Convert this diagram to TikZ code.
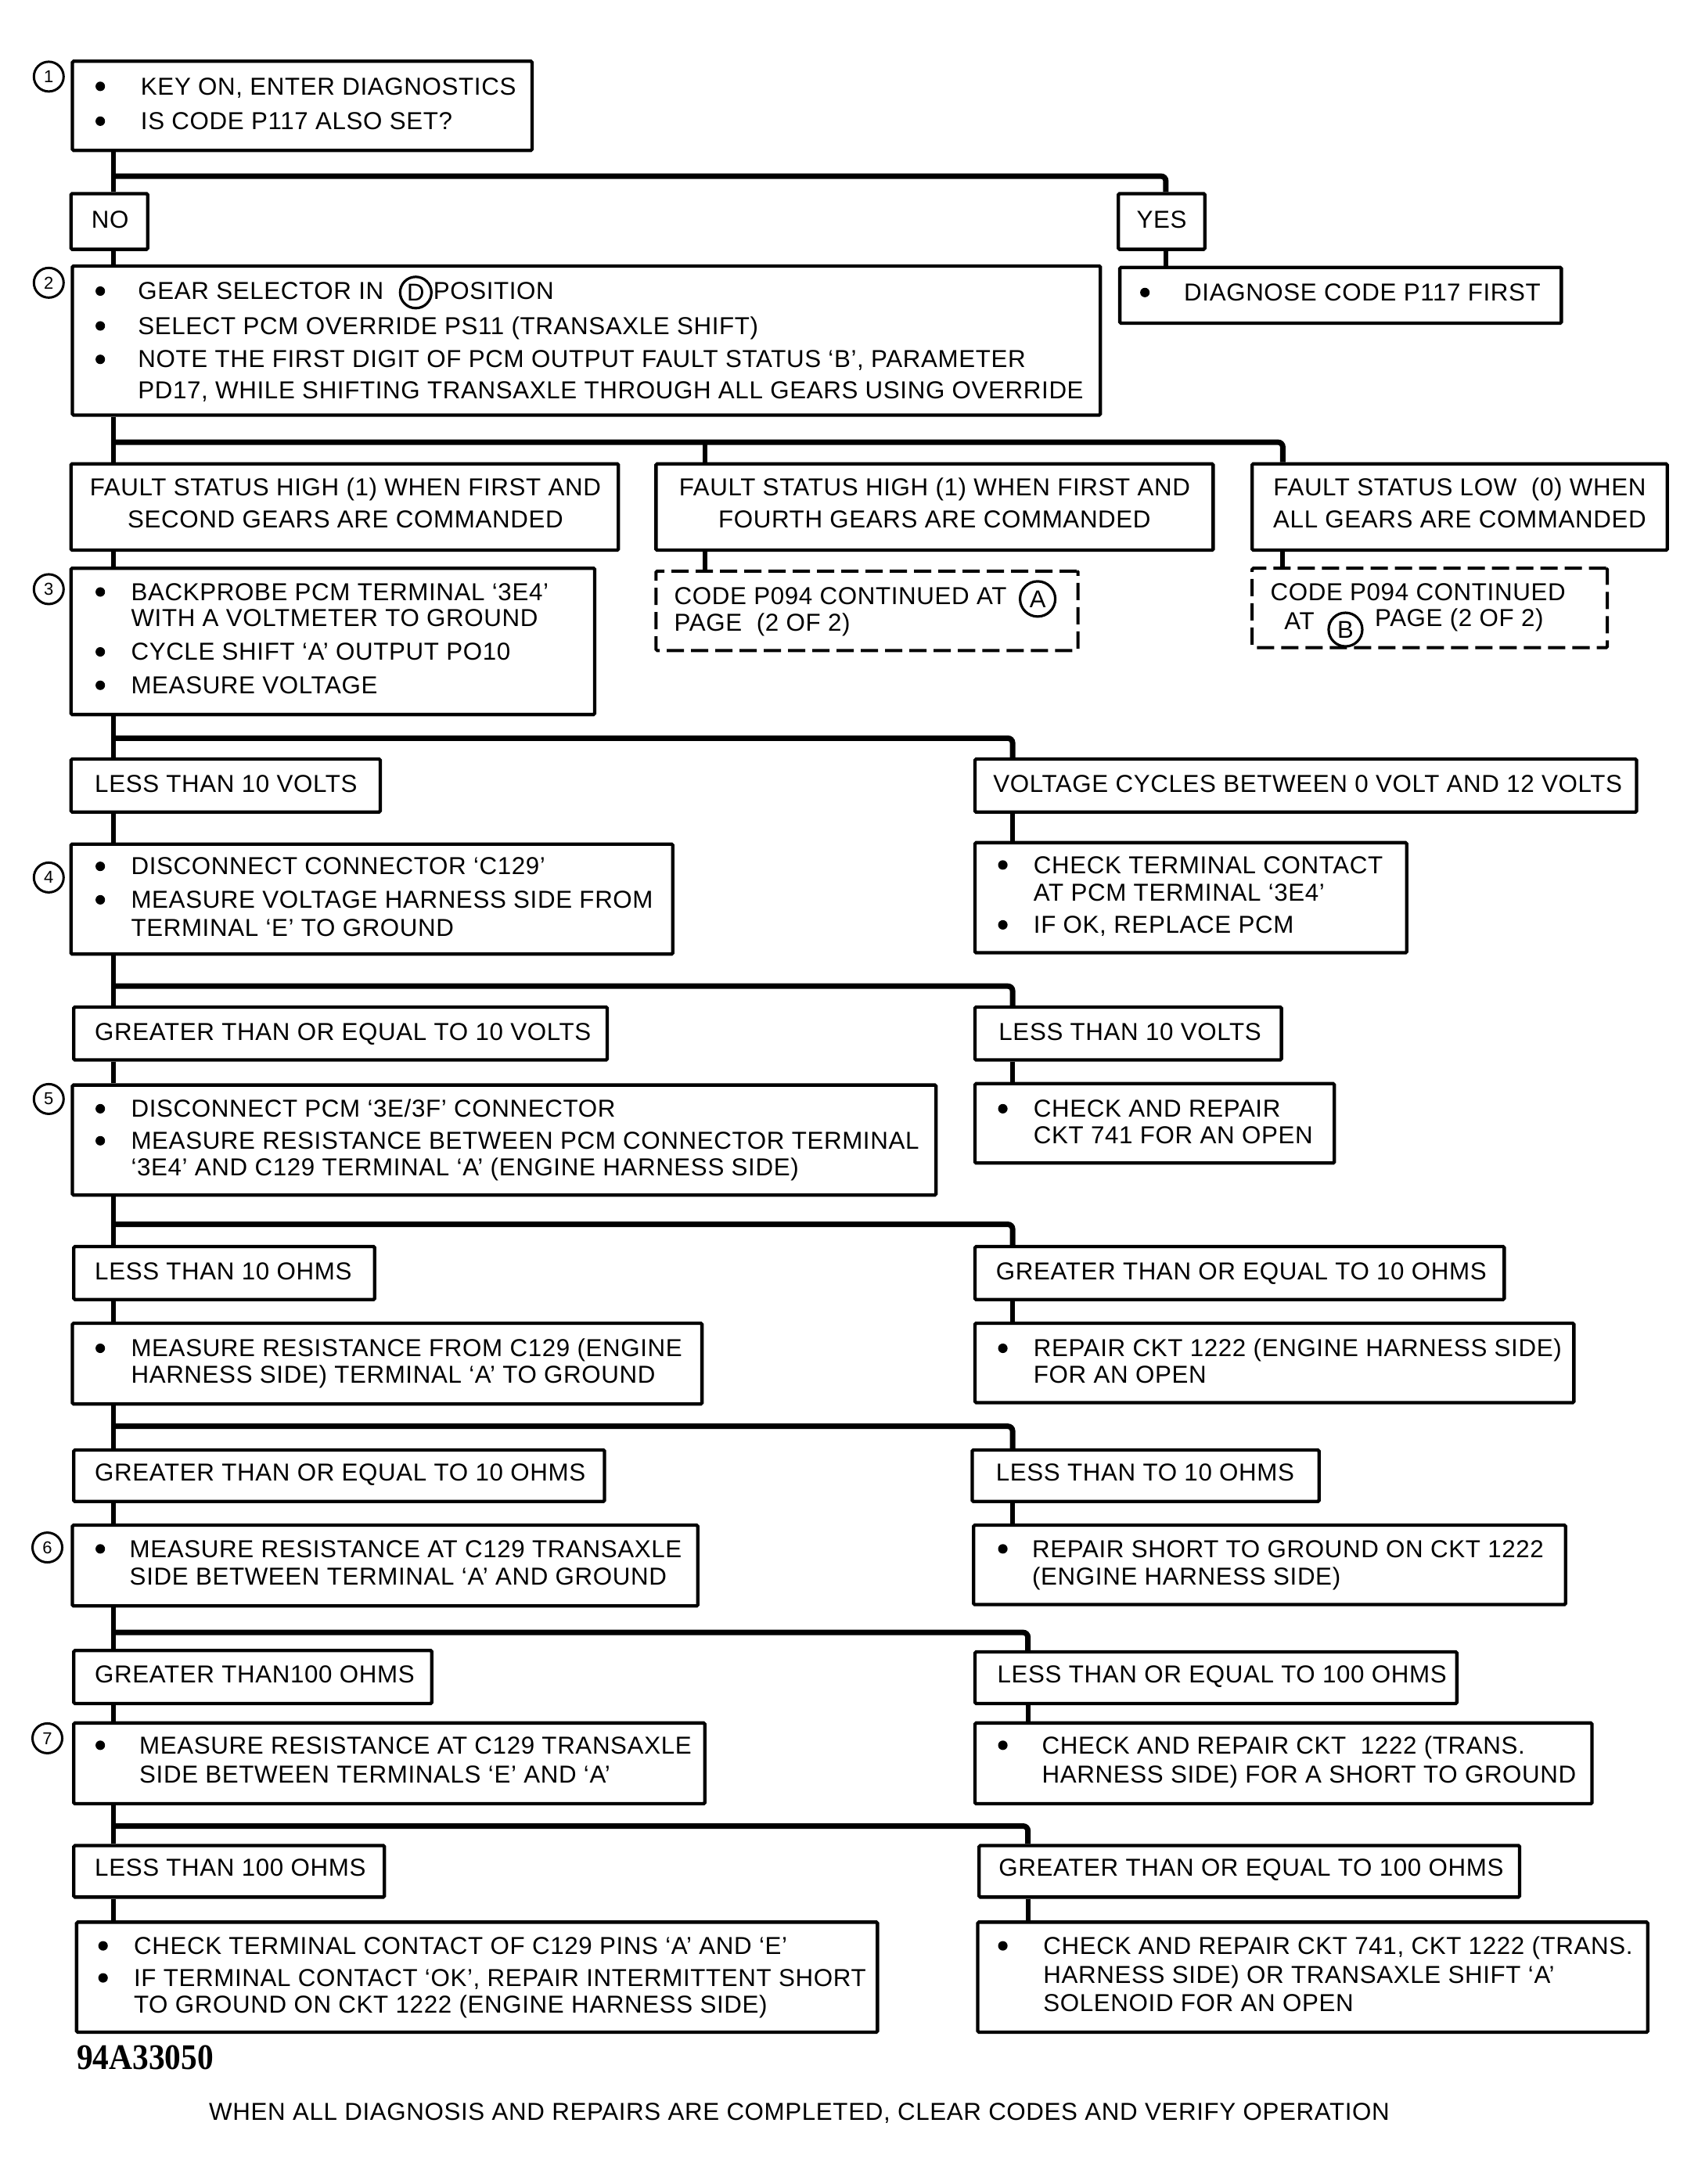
\documentclass[tikz,border=0pt]{standalone}
\usepackage{fontspec}
\setmainfont{Liberation Sans}[LetterSpace=2]
\newfontfamily\codefont{Liberation Serif}
\usetikzlibrary{fit}
\tikzset{
  box/.style={draw, line width=4.3pt, inner sep=0pt, rounded corners=1.5pt},
  dbox/.style={box, line width=4pt, dash pattern=on 22pt off 9pt},
  hl/.style={line width=7pt, rounded corners=6pt},
  vl/.style={line width=6pt},
  txt/.style={anchor=base west, inner sep=0pt, font=\fontsize{31.3}{36}\selectfont},
  ctxt/.style={anchor=base, inner sep=0pt, font=\fontsize{31.3}{36}\selectfont},
  numc/.style={circle, draw, line width=3pt, minimum size=38pt, inner sep=0pt, font=\fontsize{22}{22}\selectfont},
  letc/.style={circle, draw, line width=3.2pt, minimum size=45pt, inner sep=0pt, font=\fontsize{31}{31}\selectfont},
}
\newcommand\bx[6][box]{\node[#1, fit={(#3,#4)(#5,#6)}] (#2) {};}
\newcommand\tl[4]{\node[txt] (#1) at (#2,#3+6) {#4};}
\newcommand\tc[4]{\node[ctxt] (#1) at (#2,#3+6) {#4};}
\newcommand\bul[2]{\fill (#1,#2) circle (3.4);}
\begin{document}
\begin{tikzpicture}[x=1.7793pt, y=-1.7793pt]
\fill[white] (0,0) rectangle (1219,1568);
\useasboundingbox (0,0) rectangle (1219,1568);

% coordinates for connector columns / rows
\coordinate (tr) at (81.5,0);
\coordinate (yd) at (837,0);
\coordinate (md) at (506,0);
\coordinate (rf) at (921,0);
\coordinate (rd) at (727,0);
\coordinate (re) at (738,0);
\coordinate (h1) at (0,126.5);
\coordinate (h2) at (0,317.5);
\coordinate (h3) at (0,530);
\coordinate (h4) at (0,708);
\coordinate (h5) at (0,879);
\coordinate (h6) at (0,1024);
\coordinate (h7) at (0,1172);
\coordinate (h8) at (0,1311);

% ---------- step 1
\node[numc] (c1) at (35,55) {1};
\bx{b1}{52}{44}{382}{108}
\bul{72}{62}\tl{b1a}{101}{62}{KEY ON, ENTER DIAGNOSTICS}
\bul{72}{87}\tl{b1b}{101}{87}{IS CODE P117 ALSO SET?}

\bx{no}{51}{139}{106}{179}
\tc{not}{79}{158}{NO}
\bx{yes}{803}{139}{865}{179}
\tc{yest}{834}{158}{YES}

% ---------- step 2
\node[numc] (c2) at (35,203) {2};
\bx{b2}{52}{191}{790}{298}
\bul{72}{209}\tl{b2a}{99}{209}{GEAR SELECTOR IN}
\node[letc, minimum size=40pt] (cD) at (298.5,210) {D};
\tl{b2a2}{311}{209}{POSITION}
\bul{72}{234}\tl{b2b}{99}{234}{SELECT PCM OVERRIDE PS11 (TRANSAXLE SHIFT)}
\bul{72}{258}\tl{b2c}{99}{258}{NOTE THE FIRST DIGIT OF PCM OUTPUT FAULT STATUS ‘B’, PARAMETER}
\tl{b2d}{99}{280}{PD17, WHILE SHIFTING TRANSAXLE THROUGH ALL GEARS USING OVERRIDE}

\bx{diag}{804}{192}{1121}{232}
\bul{822}{210}\tl{diagt}{850}{210}{DIAGNOSE CODE P117 FIRST}

% ---------- fault status
\bx{f1}{51}{333}{444}{395}
\tc{f1a}{248}{350}{FAULT STATUS HIGH (1) WHEN FIRST AND}
\tc{f1b}{248}{373}{SECOND GEARS ARE COMMANDED}
\bx{f2}{471}{333}{871}{395}
\tc{f2a}{671}{350}{FAULT STATUS HIGH (1) WHEN FIRST AND}
\tc{f2b}{671}{373}{FOURTH GEARS ARE COMMANDED}
\bx{f3}{899}{333}{1197}{395}
\tc{f3a}{1048}{350}{FAULT STATUS LOW\ \ (0) WHEN}
\tc{f3b}{1048}{373}{ALL GEARS ARE COMMANDED}

% ---------- step 3
\node[numc] (c3) at (35,423) {3};
\bx{b3}{51}{408}{427}{513}
\bul{72}{425}\tl{b3a}{94}{425}{BACKPROBE PCM TERMINAL ‘3E4’}
\tl{b3b}{94}{444}{WITH A VOLTMETER TO GROUND}
\bul{72}{468}\tl{b3c}{94}{468}{CYCLE SHIFT ‘A’ OUTPUT PO10}
\bul{72}{492}\tl{b3d}{94}{492}{MEASURE VOLTAGE}

\bx[dbox]{dA}{471}{410}{774}{467}
\tl{dAa}{484}{428}{CODE P094 CONTINUED AT}
\node[letc] (cA) at (745,430) {A};
\tl{dAb}{484}{447}{PAGE\ \ (2 OF 2)}

\bx[dbox]{dB}{899}{408}{1154}{465}
\tl{dBa}{912}{425}{CODE P094 CONTINUED}
\tl{dBb}{922}{446}{AT}
\node[letc, minimum size=43pt] (cB) at (966,452) {B};
\tl{dBc}{987}{444}{PAGE (2 OF 2)}

% ---------- voltage results
\bx{lv1}{51}{545}{273}{583}
\tl{lv1t}{68}{563}{LESS THAN 10 VOLTS}
\bx{vc}{700}{545}{1175}{583}
\tl{vct}{713}{563}{VOLTAGE CYCLES BETWEEN 0 VOLT AND 12 VOLTS}

% ---------- step 4
\node[numc] (c4) at (35,630) {4};
\bx{b4}{51}{606}{483}{685}
\bul{72}{622}\tl{b4a}{94}{622}{DISCONNECT CONNECTOR ‘C129’}
\bul{72}{646}\tl{b4b}{94}{646}{MEASURE VOLTAGE HARNESS SIDE FROM}
\tl{b4c}{94}{666}{TERMINAL ‘E’ TO GROUND}
\bx{ctc}{700}{605}{1010}{684}
\bul{720}{621}\tl{ctca}{742}{621}{CHECK TERMINAL CONTACT}
\tl{ctcb}{742}{641}{AT PCM TERMINAL ‘3E4’}
\bul{720}{664}\tl{ctcc}{742}{664}{IF OK, REPLACE PCM}

\bx{gv}{53}{723}{436}{761}
\tl{gvt}{68}{741}{GREATER THAN OR EQUAL TO 10 VOLTS}
\bx{lv2}{700}{723}{920}{761}
\tl{lv2t}{717}{741}{LESS THAN 10 VOLTS}

% ---------- step 5
\node[numc] (c5) at (35,789) {5};
\bx{b5}{52}{779}{672}{858}
\bul{72}{796}\tl{b5a}{94}{796}{DISCONNECT PCM ‘3E/3F’ CONNECTOR}
\bul{72}{819}\tl{b5b}{94}{819}{MEASURE RESISTANCE BETWEEN PCM CONNECTOR TERMINAL}
\tl{b5c}{94}{838}{‘3E4’ AND C129 TERMINAL ‘A’ (ENGINE HARNESS SIDE)}
\bx{ck741}{700}{778}{958}{835}
\bul{720}{796}\tl{ck741a}{742}{796}{CHECK AND REPAIR}
\tl{ck741b}{742}{815}{CKT 741 FOR AN OPEN}

\bx{lo}{53}{895}{269}{933}
\tl{lot}{68}{913}{LESS THAN 10 OHMS}
\bx{go}{700}{895}{1080}{933}
\tl{got}{715}{913}{GREATER THAN OR EQUAL TO 10 OHMS}

\bx{mr}{52}{950}{504}{1008}
\bul{72}{968}\tl{mra}{94}{968}{MEASURE RESISTANCE FROM C129 (ENGINE}
\tl{mrb}{94}{987}{HARNESS SIDE) TERMINAL ‘A’ TO GROUND}
\bx{rep}{700}{950}{1130}{1007}
\bul{720}{968}\tl{repa}{742}{968}{REPAIR CKT 1222 (ENGINE HARNESS SIDE)}
\tl{repb}{742}{987}{FOR AN OPEN}

\bx{go2}{53}{1041}{434}{1078}
\tl{go2t}{68}{1057}{GREATER THAN OR EQUAL TO 10 OHMS}
\bx{lt10}{698}{1041}{947}{1078}
\tl{lt10t}{715}{1057}{LESS THAN TO 10 OHMS}

% ---------- step 6
\node[numc] (c6) at (34,1111) {6};
\bx{b6}{52}{1095}{501}{1153}
\bul{72}{1112}\tl{b6a}{93}{1112}{MEASURE RESISTANCE AT C129 TRANSAXLE}
\tl{b6b}{93}{1132}{SIDE BETWEEN TERMINAL ‘A’ AND GROUND}
\bx{rs}{699}{1095}{1124}{1152}
\bul{720}{1112}\tl{rsa}{741}{1112}{REPAIR SHORT TO GROUND ON CKT 1222}
\tl{rsb}{741}{1132}{(ENGINE HARNESS SIDE)}

\bx{g100}{53}{1185}{310}{1223}
\tl{g100t}{68}{1202}{GREATER THAN100 OHMS}
\bx{le100}{700}{1186}{1046}{1223}
\tl{le100t}{716}{1202}{LESS THAN OR EQUAL TO 100 OHMS}

% ---------- step 7
\node[numc] (c7) at (34,1248) {7};
\bx{b7}{53}{1237}{506}{1295}
\bul{72}{1253}\tl{b7a}{100}{1253}{MEASURE RESISTANCE AT C129 TRANSAXLE}
\tl{b7b}{100}{1274}{SIDE BETWEEN TERMINALS ‘E’ AND ‘A’}
\bx{ck1222}{700}{1237}{1143}{1295}
\bul{720}{1253}\tl{ck1222a}{748}{1253}{CHECK AND REPAIR CKT\ \ 1222 (TRANS.}
\tl{ck1222b}{748}{1274}{HARNESS SIDE) FOR A SHORT TO GROUND}

\bx{l100}{53}{1325}{276}{1362}
\tl{l100t}{68}{1341}{LESS THAN 100 OHMS}
\bx{ge100}{703}{1325}{1091}{1362}
\tl{ge100t}{717}{1341}{GREATER THAN OR EQUAL TO 100 OHMS}

\bx{fl}{55}{1380}{630}{1459}
\bul{74}{1397}\tl{fla}{96}{1397}{CHECK TERMINAL CONTACT OF C129 PINS ‘A’ AND ‘E’}
\bul{74}{1420}\tl{flb}{96}{1420}{IF TERMINAL CONTACT ‘OK’, REPAIR INTERMITTENT SHORT}
\tl{flc}{96}{1439}{TO GROUND ON CKT 1222 (ENGINE HARNESS SIDE)}
\bx{fr}{702}{1380}{1183}{1459}
\bul{720}{1397}\tl{fra}{749}{1397}{CHECK AND REPAIR CKT 741, CKT 1222 (TRANS.}
\tl{frb}{749}{1418}{HARNESS SIDE) OR TRANSAXLE SHIFT ‘A’}
\tl{frc}{749}{1438}{SOLENOID FOR AN OPEN}

\node[anchor=west, inner sep=0pt] (code) at (55,1477)
  {\scalebox{0.9}[1]{\codefont\bfseries\fontsize{46}{50}\selectfont 94A33050}};
\tl{foot}{150}{1516}{WHEN ALL DIAGNOSIS AND REPAIRS ARE COMPLETED, CLEAR CODES AND VERIFY OPERATION}

% ---------- connectors
\draw[vl] (tr |- b1.south) -- (tr |- no.north);
\draw[hl] (tr |- h1) -| (yd |- yes.north);
\draw[vl] (tr |- no.south) -- (tr |- b2.north);
\draw[vl] (yd |- yes.south) -- (yd |- diag.north);

\draw[vl] (tr |- b2.south) -- (tr |- f1.north);
\draw[hl] (tr |- h2) -| (rf |- f3.north);
\draw[vl] (md |- h2) -- (md |- f2.north);
\draw[vl] (tr |- f1.south) -- (tr |- b3.north);
\draw[vl] (md |- f2.south) -- (md |- dA.north);
\draw[vl] (rf |- f3.south) -- (rf |- dB.north);

\draw[vl] (tr |- b3.south) -- (tr |- lv1.north);
\draw[hl] (tr |- h3) -| (rd |- vc.north);
\draw[vl] (tr |- lv1.south) -- (tr |- b4.north);
\draw[vl] (rd |- vc.south) -- (rd |- ctc.north);

\draw[vl] (tr |- b4.south) -- (tr |- gv.north);
\draw[hl] (tr |- h4) -| (rd |- lv2.north);
\draw[vl] (tr |- gv.south) -- (tr |- b5.north);
\draw[vl] (rd |- lv2.south) -- (rd |- ck741.north);

\draw[vl] (tr |- b5.south) -- (tr |- lo.north);
\draw[hl] (tr |- h5) -| (rd |- go.north);
\draw[vl] (tr |- lo.south) -- (tr |- mr.north);
\draw[vl] (rd |- go.south) -- (rd |- rep.north);

\draw[vl] (tr |- mr.south) -- (tr |- go2.north);
\draw[hl] (tr |- h6) -| (rd |- lt10.north);
\draw[vl] (tr |- go2.south) -- (tr |- b6.north);
\draw[vl] (rd |- lt10.south) -- (rd |- rs.north);

\draw[vl] (tr |- b6.south) -- (tr |- g100.north);
\draw[hl] (tr |- h7) -| (re |- le100.north);
\draw[vl] (tr |- g100.south) -- (tr |- b7.north);
\draw[vl] (re |- le100.south) -- (re |- ck1222.north);

\draw[vl] (tr |- b7.south) -- (tr |- l100.north);
\draw[hl] (tr |- h8) -| (re |- ge100.north);
\draw[vl] (tr |- l100.south) -- (tr |- fl.north);
\draw[vl] (re |- ge100.south) -- (re |- fr.north);
\end{tikzpicture}
\end{document}
